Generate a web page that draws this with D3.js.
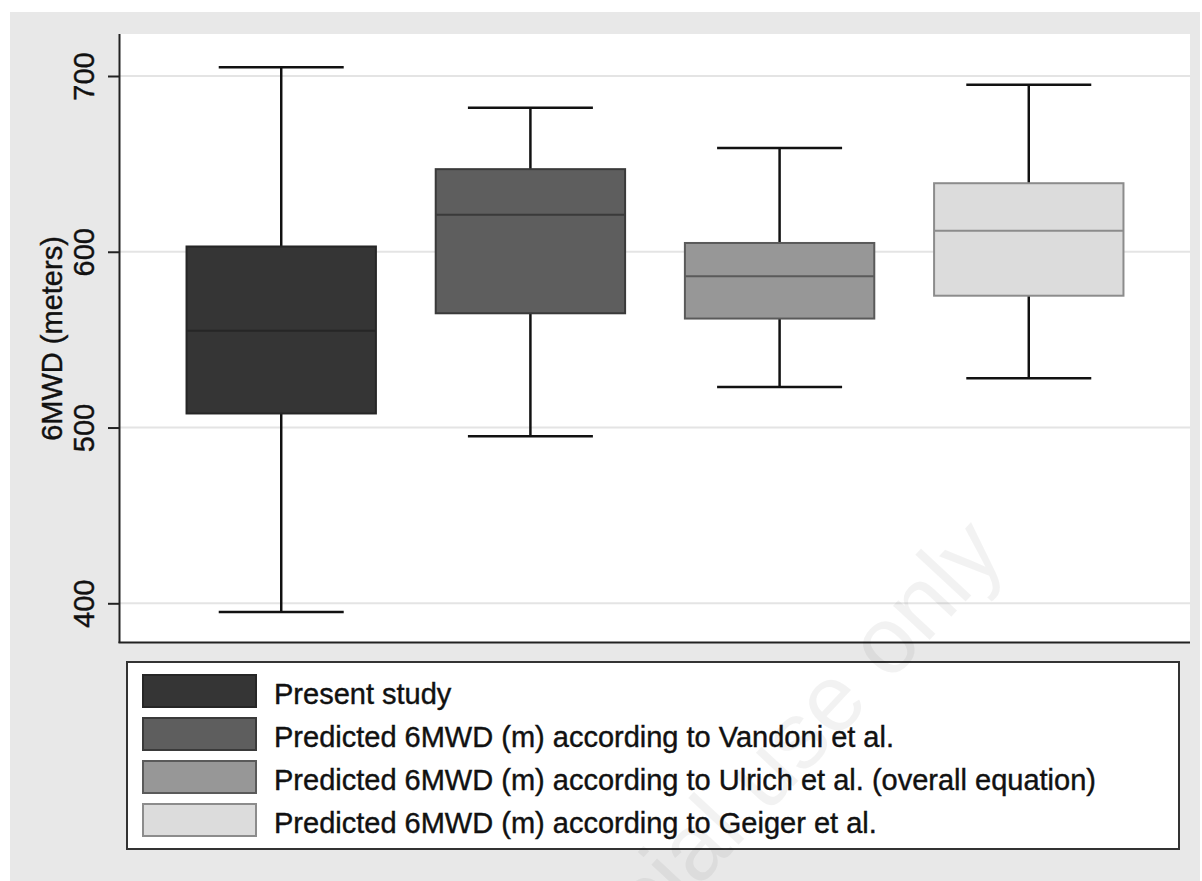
<!DOCTYPE html>
<html>
<head>
<meta charset="utf-8">
<script src="https://cdn.jsdelivr.net/npm/d3@7"></script>
<style>
  body { margin: 0; background: #fff; }
  text { font-family: "Liberation Sans", Arial, Helvetica, sans-serif; fill: #111; }
  .lbl { stroke: #111; stroke-width: 0.4px; }
</style>
</head>
<body>
<svg width="1202" height="881"></svg>
<script>
// values (meters)
var groups = ["Present study", "Vandoni", "Ulrich", "Geiger"];
var labels = [
  "Present study",
  "Predicted 6MWD (m) according to Vandoni et al.",
  "Predicted 6MWD (m) according to Ulrich et al. (overall equation)",
  "Predicted 6MWD (m) according to Geiger et al."
];
var whiskerLow = [395, 495, 523, 528];
var q1 = [508, 565, 562, 575];
var median = [555, 621, 586, 612];
var q3 = [603, 647, 605, 639];
var whiskerHigh = [705, 682, 659, 695];
var fills = ["#353535", "#5e5e5e", "#979797", "#dcdcdc"];
var strokes = ["#262626", "#3a3a3a", "#5a5a5a", "#8c8c8c"];
var yTicks = [400, 500, 600, 700];

var svg = d3.select("svg");
var width = +svg.attr("width");
var height = +svg.attr("height");

// plot region
var plotL = 120, plotR = 1190, plotT = 34, plotB = 643;

// gray graph background
svg.append("rect")
  .attr("x", 10).attr("y", 12)
  .attr("width", 1190).attr("height", height - 12)
  .attr("fill", "#e8e8e8");

svg.append("rect")
  .attr("x", plotL).attr("y", plotT)
  .attr("width", plotR - plotL).attr("height", plotB - plotT)
  .attr("fill", "#fff");

var y = d3.scaleLinear().domain([400, 700]).range([603.3, 76]);
var x = d3.scalePoint().domain(groups).range([plotL, plotR]).padding(0.647);
var boxW = x.step() * 0.76;
var capW = boxW * 0.66;

// gridlines
svg.append("g")
  .selectAll("line")
  .data(yTicks)
  .enter()
  .append("line")
  .attr("x1", plotL).attr("x2", plotR)
  .attr("y1", function(d) { return y(d); })
  .attr("y2", function(d) { return y(d); })
  .attr("stroke", "#e4e4e4")
  .attr("stroke-width", 2);

// y axis
var yAxis = svg.append("g")
  .attr("transform", "translate(" + plotL + ",0)")
  .call(d3.axisLeft(y).tickValues(yTicks).tickSize(12).tickPadding(0).tickFormat(d3.format("d")));
yAxis.select(".domain").remove();
yAxis.selectAll(".tick line").attr("stroke", "#222").attr("stroke-width", 2);
yAxis.selectAll(".tick text")
  .attr("x", null).attr("dy", null)
  .attr("class", "lbl")
  .attr("transform", "translate(-26,0) rotate(-90)")
  .attr("text-anchor", "middle")
  .style("font-size", "29px")
  .style("font-family", "'Liberation Sans', Arial, sans-serif")
  .attr("fill", "#111");

svg.append("text")
  .attr("class", "lbl")
  .attr("transform", "translate(62," + ((plotT + plotB) / 2) + ") rotate(-90)")
  .attr("text-anchor", "middle")
  .style("font-size", "29px")
  .text("6MWD (meters)");

// boxes
var idx = d3.range(groups.length);
var box = svg.append("g").selectAll("g")
  .data(idx)
  .enter()
  .append("g");

// whiskers
box.append("line")
  .attr("x1", function(i) { return x(groups[i]); })
  .attr("x2", function(i) { return x(groups[i]); })
  .attr("y1", function(i) { return y(whiskerHigh[i]); })
  .attr("y2", function(i) { return y(q3[i]); })
  .attr("stroke", "#111").attr("stroke-width", 2.5);
box.append("line")
  .attr("x1", function(i) { return x(groups[i]); })
  .attr("x2", function(i) { return x(groups[i]); })
  .attr("y1", function(i) { return y(q1[i]); })
  .attr("y2", function(i) { return y(whiskerLow[i]); })
  .attr("stroke", "#111").attr("stroke-width", 2.5);
// caps
[whiskerHigh, whiskerLow].forEach(function(arr) {
  box.append("line")
    .attr("x1", function(i) { return x(groups[i]) - capW / 2; })
    .attr("x2", function(i) { return x(groups[i]) + capW / 2; })
    .attr("y1", function(i) { return y(arr[i]); })
    .attr("y2", function(i) { return y(arr[i]); })
    .attr("stroke", "#111").attr("stroke-width", 2.5);
});

box.append("rect")
  .attr("x", function(i) { return x(groups[i]) - boxW / 2; })
  .attr("y", function(i) { return y(q3[i]); })
  .attr("width", boxW)
  .attr("height", function(i) { return y(q1[i]) - y(q3[i]); })
  .attr("fill", function(i) { return fills[i]; })
  .attr("stroke", function(i) { return strokes[i]; })
  .attr("stroke-width", 2);

box.append("line")
  .attr("x1", function(i) { return x(groups[i]) - boxW / 2; })
  .attr("x2", function(i) { return x(groups[i]) + boxW / 2; })
  .attr("y1", function(i) { return y(median[i]); })
  .attr("y2", function(i) { return y(median[i]); })
  .attr("stroke", function(i) { return strokes[i]; })
  .attr("stroke-width", 2);

// axis lines
svg.append("line")
  .attr("x1", plotL - 0.5).attr("x2", plotL - 0.5)
  .attr("y1", plotT).attr("y2", plotB)
  .attr("stroke", "#222").attr("stroke-width", 2);
svg.append("line")
  .attr("x1", plotL - 1.5).attr("x2", plotR)
  .attr("y1", plotB - 0.5).attr("y2", plotB - 0.5)
  .attr("stroke", "#222").attr("stroke-width", 2);

// legend
var lg = svg.append("g");
lg.append("rect")
  .attr("x", 127).attr("y", 662)
  .attr("width", 1052).attr("height", 187)
  .attr("fill", "#fff")
  .attr("stroke", "#333").attr("stroke-width", 2);

var row = lg.selectAll("g.row")
  .data(idx)
  .enter()
  .append("g")
  .attr("class", "row")
  .attr("transform", function(i) { return "translate(0," + (675 + i * 43) + ")"; });

row.append("rect")
  .attr("x", 143).attr("y", 0)
  .attr("width", 113).attr("height", 32)
  .attr("fill", function(i) { return fills[i]; })
  .attr("stroke", function(i) { return strokes[i]; })
  .attr("stroke-width", 2);

row.append("text")
  .attr("class", "lbl")
  .attr("x", 274).attr("y", 29)
  .style("font-size", "29px")
  .text(function(i) { return labels[i]; });

// faint watermark (runs off the bottom edge, as in the source image)
svg.append("text")
  .attr("transform", "translate(1008,556) rotate(-47)")
  .attr("text-anchor", "end")
  .style("font-size", "95px")
  .style("fill", "#000")
  .style("fill-opacity", 0.05)
  .text("commercial use only");
</script>
</body>
</html>
